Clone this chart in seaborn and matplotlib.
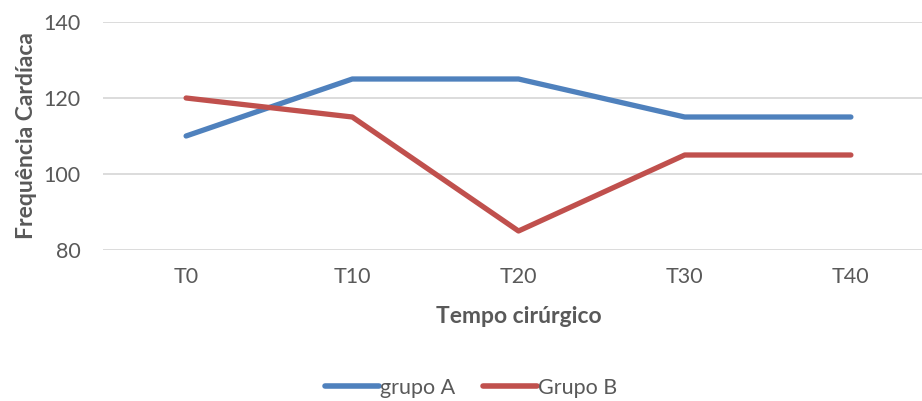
import matplotlib.pyplot as plt
import seaborn as sns
import pandas as pd

# Chart values
tempos = ["T0", "T10", "T20", "T30", "T40"]
grupo_a = [110, 125, 125, 115, 115]
grupo_b = [120, 115, 85, 105, 105]
series_names = ["grupo A", "Grupo B"]
y_ticks = [80, 100, 120, 140]

data = pd.DataFrame({
    "tempo": tempos * 2,
    "freq": grupo_a + grupo_b,
    "grupo": [series_names[0]] * len(tempos) + [series_names[1]] * len(tempos),
})
data["pos"] = list(range(len(tempos))) * 2

sns.set_style("white")
plt.rcParams["font.family"] = ["Lato", "DejaVu Sans"]

text_color = "#595959"
fig = plt.figure(figsize=(9.22, 4.01), dpi=100)
ax = fig.add_axes([103 / 922, 1 - 250 / 401, 831 / 922, 228 / 401])

sns.lineplot(data=data, x="pos", y="freq", hue="grupo",
             palette=["#4f81bd", "#c0504d"], linewidth=3.8,
             solid_capstyle="round", ax=ax, legend=True)

ax.set_xlim(-0.5, len(tempos) - 0.5)
ax.set_ylim(80, 140)
ax.set_yticks(y_ticks)
ax.set_xticks(range(len(tempos)))
ax.set_xticklabels(tempos)
ax.tick_params(axis="both", length=0, labelsize=15.5, labelcolor=text_color)
ax.tick_params(axis="x", pad=12)
ax.tick_params(axis="y", pad=16)
ax.grid(axis="y", color="#d9d9d9", linewidth=1.3)
ax.set_axisbelow(True)
for s in ax.spines.values():
    s.set_visible(False)

ax.set_xlabel("Tempo cirúrgico", fontsize=16.5, fontweight="bold",
              color=text_color, labelpad=14)
ax.set_ylabel("Frequência Cardíaca", fontsize=16.5, fontweight="bold",
              color=text_color, labelpad=5)

leg = ax.legend(loc="center", bbox_to_anchor=(471 / 922, 1 - 388 / 401),
                bbox_transform=fig.transFigure, ncol=2, frameon=False,
                fontsize=15.5, handlelength=2.5, handletextpad=0.05,
                columnspacing=1.3)
for t in leg.get_texts():
    t.set_color(text_color)
for line in leg.get_lines():
    line.set_linewidth(4)
    line.set_solid_capstyle("round")

fig.savefig("out.png", dpi=100)
plt.close(fig)
